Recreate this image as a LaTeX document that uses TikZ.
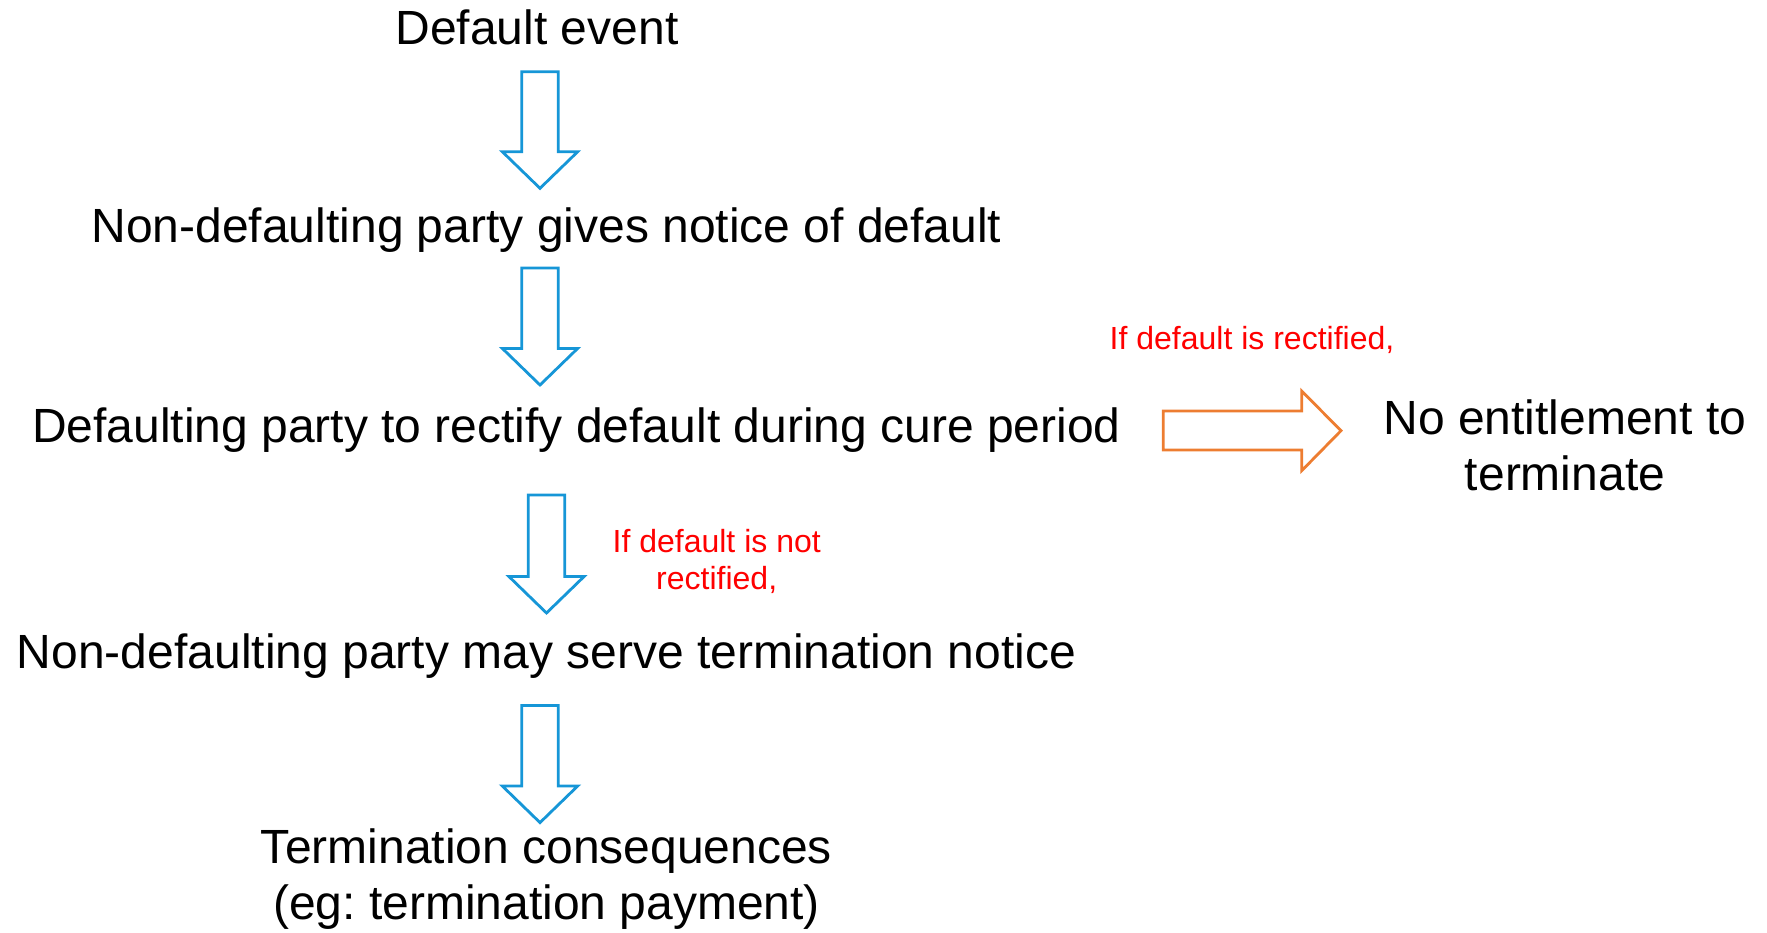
\documentclass[tikz,border=0pt]{standalone}
\usepackage{fontspec}
\setmainfont{Liberation Sans}
\frenchspacing
\definecolor{arrowblue}{RGB}{22,150,215}
\definecolor{arroworange}{RGB}{237,125,49}
\definecolor{notered}{RGB}{255,0,0}
\newcommand{\blockdown}[3]{%
  \draw[bluearrow] (#1-18.2,#2) -- (#1+18.2,#2) -- (#1+18.2,#3-36.6) -- (#1+37.7,#3-36.6)
    -- (#1,#3) -- (#1-37.7,#3-36.6) -- (#1-18.2,#3-36.6) -- cycle;}
\begin{document}
\begin{tikzpicture}[x=1pt,y=-1pt,
  main/.style={font=\fontsize{48}{56}\selectfont\frenchspacing, inner sep=0pt, anchor=base, align=center},
  note/.style={font=\fontsize{32}{37}\selectfont\frenchspacing, text=notered, inner sep=0pt, anchor=base, align=center},
  bluearrow/.style={draw=arrowblue, line width=2.8pt, line join=miter, fill=white},
  orangearrow/.style={draw=arroworange, line width=2.8pt, line join=miter, fill=white}]
\useasboundingbox (0,0) rectangle (1767,932);
\node[main] (event) at (537,44) {Default event};
\node[main] (notice) at (546.5,242) {Non-defaulting party gives notice of default};
\node[main] (cure) at (576.4,442) {Defaulting party to rectify default during cure period};
\node[main] (noent) at (1565,490) {No entitlement to\\terminate};
\node[main] (serve) at (546.5,668) {Non-defaulting party may serve termination notice};
\node[main] (cons) at (546.5,919) {Termination consequences\\(eg: termination payment)};
\node[note] (rect) at (1252,349) {If default is rectified,};
\node[note] (notrect) at (716.7,589.7) {If default is not\\rectified,};
% blue block arrows
\blockdown{540}{71.7}{188.3}
\blockdown{540}{268}{385}
\blockdown{546.5}{495}{613}
\blockdown{540}{705.5}{822.6}
% orange block arrow
\draw[orangearrow] (1163.3,411) -- (1301.7,411) -- (1301.7,391) -- (1341,430.7)
  -- (1301.7,470.7) -- (1301.7,450) -- (1163.3,450) -- cycle;
\end{tikzpicture}
\end{document}
